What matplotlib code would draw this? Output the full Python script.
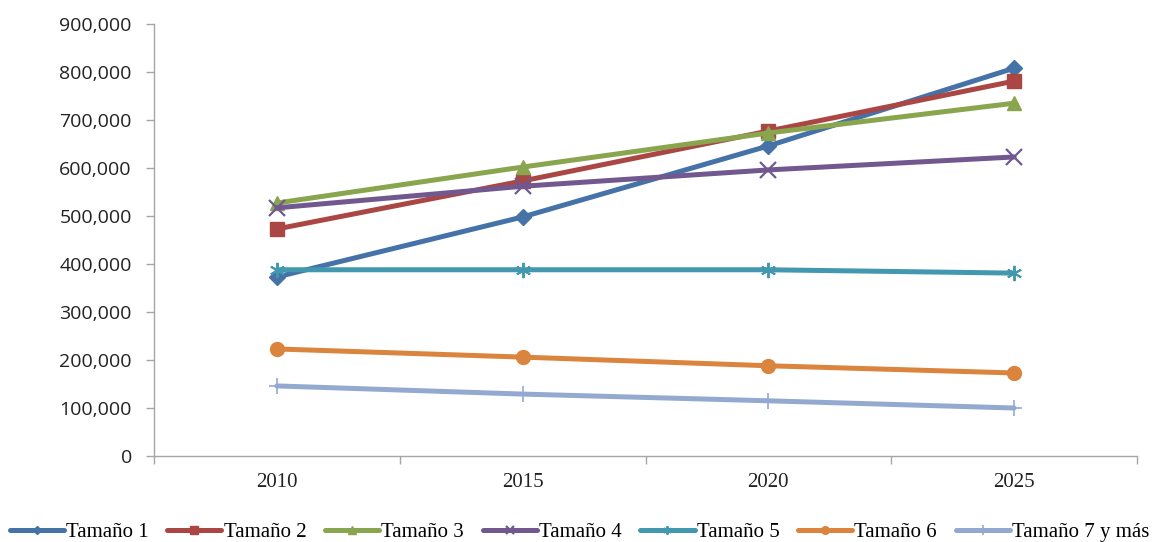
import matplotlib
matplotlib.use("Agg")
import matplotlib.pyplot as plt
from matplotlib.ticker import FuncFormatter, FixedLocator

years = ["2010", "2015", "2020", "2025"]
series_names = ["Tamaño 1", "Tamaño 2", "Tamaño 3", "Tamaño 4",
                "Tamaño 5", "Tamaño 6", "Tamaño 7 y más"]
tam1 = [373000, 498000, 646000, 808000]
tam2 = [473000, 573000, 677000, 781000]
tam3 = [527000, 602000, 673000, 735000]
tam4 = [517000, 562000, 596000, 623000]
tam5 = [388000, 388000, 388000, 381000]
tam6 = [223000, 206000, 188000, 173000]
tam7 = [146000, 129000, 115000, 100000]
values = [tam1, tam2, tam3, tam4, tam5, tam6, tam7]

colors = ["#4572A7", "#AA4643", "#89A54E", "#71588F", "#4198AF", "#DB843D", "#93A9CF"]
markers = ["D", "s", "^", "x", (6, 2, 0), "o", "+"]
msizes = [8, 10, 10, 11, 11, 10, 12]
mews = [1, 1, 1, 1.6, 1.4, 1, 1.2]

fig = plt.figure(figsize=(11.59, 5.42), dpi=100)
ax = fig.add_axes([154/1159, 1-456/542, (1137-154)/1159, (456-24)/542])

x = list(range(len(years)))
for name, vals, c, m, ms, mew in zip(series_names, values, colors, markers, msizes, mews):
    ax.plot(x, vals, color=c, lw=3.6, marker=m, markersize=ms,
            markeredgewidth=mew, markeredgecolor=c, markerfacecolor=c,
            label=name, solid_capstyle="round")

ax.set_xlim(-0.5, len(years) - 0.5)
ax.set_ylim(0, 900000)
ax.set_yticks(range(0, 900001, 100000))
ax.yaxis.set_major_formatter(FuncFormatter(lambda v, p: f"{int(v):,}"))
ax.set_xticks(x)
ax.set_xticklabels(years, fontfamily="Liberation Serif", fontsize=15)
ax.xaxis.set_minor_locator(FixedLocator([i - 0.5 for i in range(len(years) + 1)]))
ax.tick_params(axis="x", which="major", length=0, pad=12, labelcolor="#222222")
ax.tick_params(axis="x", which="minor", length=6, color="#A6A6A6", width=1)
ax.tick_params(axis="y", length=6, color="#A6A6A6", width=1, labelsize=14, pad=10)
for lab in ax.get_yticklabels():
    lab.set_fontfamily("Open Sans")
    lab.set_color("#222222")
for s in ["top", "right"]:
    ax.spines[s].set_visible(False)
for s in ["left", "bottom"]:
    ax.spines[s].set_color("#A6A6A6")
    ax.spines[s].set_linewidth(1)

handles, labels = ax.get_legend_handles_labels()
fig.legend(handles, labels, loc="center", bbox_to_anchor=(0.5, 1-532/542),
           ncol=7, frameon=False, handlelength=2.6, columnspacing=0.9,
           handletextpad=0.1, prop={"family": "Liberation Serif", "size": 15},
           markerscale=0.55)

fig.savefig("out.png", dpi=100)
